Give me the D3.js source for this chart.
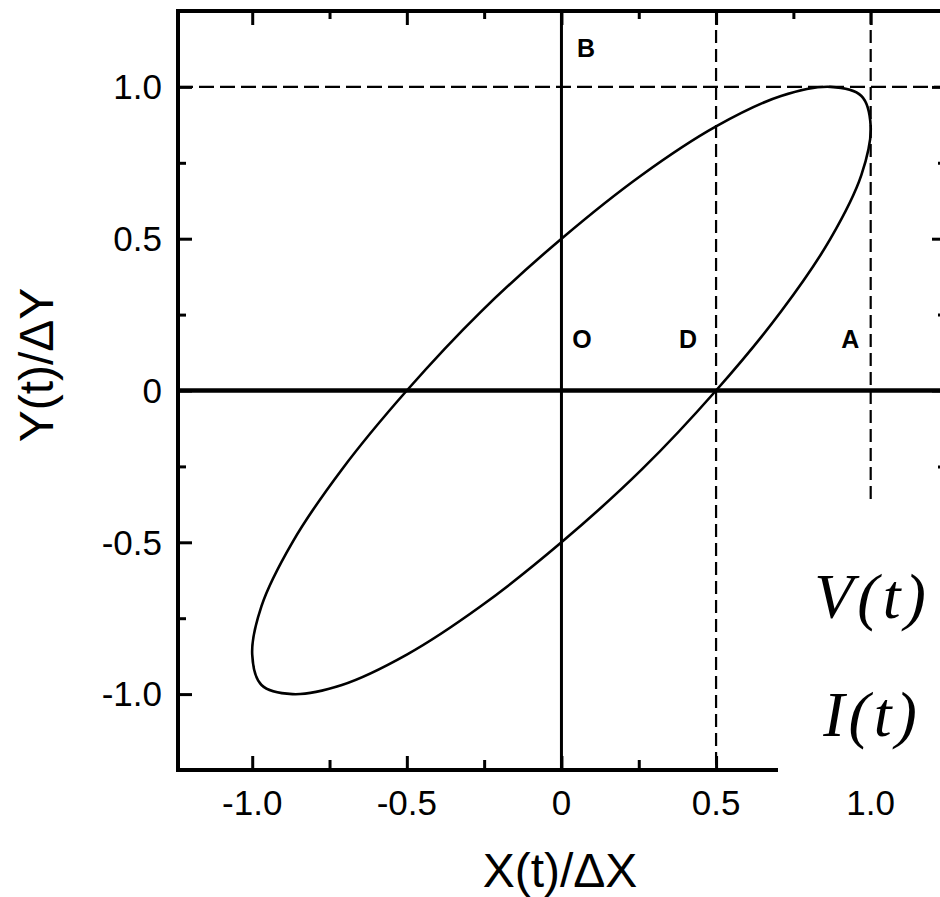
<!DOCTYPE html>
<html>
<head>
<meta charset="utf-8">
<script src="https://cdn.jsdelivr.net/npm/d3@7/dist/d3.min.js"></script>
<style>
  html, body { margin: 0; padding: 0; background: #fff; }
  svg { display: block; }
  text { font-family: "Liberation Sans", Arial, sans-serif; fill: #000; }
  text.signal { font-family: "Liberation Serif", "DejaVu Serif", serif; font-style: italic; }
</style>
</head>
<body>
<svg id="chart" width="940" height="897"></svg>
<script>
// Normalised trajectory X(t)/ΔX, Y(t)/ΔY around one period
const loopX = [1.00, 0.97, 0.87, 0.71, 0.50, 0.26, 0.00, -0.26, -0.50, -0.71, -0.87, -0.97,
               -1.00, -0.97, -0.87, -0.71, -0.50, -0.26, 0.00, 0.26, 0.50, 0.71, 0.87, 0.97];
const loopY = [0.87, 0.97, 1.00, 0.97, 0.87, 0.71, 0.50, 0.26, 0.00, -0.26, -0.50, -0.71,
               -0.87, -0.97, -1.00, -0.97, -0.87, -0.71, -0.50, -0.26, 0.00, 0.26, 0.50, 0.71];

// Axis ticks
const majorTicks = [-1.0, -0.5, 0, 0.5, 1.0];
const majorLabels = ["-1.0", "-0.5", "0", "0.5", "1.0"];
const minorTicks = [-0.75, -0.25, 0.25, 0.75];

// Reference levels: B (Y = 1), D (X = 0.5), A (X = 1)
const levelB = 1.0;
const levelD = 0.5;
const levelA = 1.0;

// Point names and where they sit (data units)
const pointNames = ["B", "O", "D", "A"];
const pointX = [0.05, 0.035, 0.38, 0.905];
const pointY = [1.10, 0.14, 0.14, 0.14];

// Signal names
const signalNames = ["V(t)", "I(t)"];

const svg = d3.select("#chart");

const x = d3.scaleLinear().domain([-1.24, 1.25]).range([178, 948]);
const y = d3.scaleLinear().domain([-1.25, 1.25]).range([770, 11]);

const xL = x.range()[0];
const yB = y.range()[0], yT = y.range()[1];
const xRight = 946;

// Ticks, all pointing into the plot
function tickAxis(axisGen, transform, vals, size) {
  const g = svg.append("g").attr("transform", transform)
    .call(axisGen.tickValues(vals).tickSize(size).tickFormat(""));
  g.select(".domain").remove();
  g.selectAll(".tick line").attr("stroke", "#000").attr("stroke-width", 3);
  return g;
}
tickAxis(d3.axisBottom(x), `translate(0,${yB})`, majorTicks, -14);
tickAxis(d3.axisBottom(x), `translate(0,${yB})`, minorTicks, -10);
tickAxis(d3.axisTop(x), `translate(0,${yT})`, majorTicks, -14);
tickAxis(d3.axisTop(x), `translate(0,${yT})`, minorTicks, -8);
tickAxis(d3.axisLeft(y), `translate(${xL},0)`, majorTicks, -14);
tickAxis(d3.axisLeft(y), `translate(${xL},0)`, minorTicks, -8);
tickAxis(d3.axisRight(y), `translate(${xRight},0)`, majorTicks, -14);
tickAxis(d3.axisRight(y), `translate(${xRight},0)`, minorTicks, -8);

// Dashed reference lines
const dash = svg.append("g").attr("stroke", "#000").attr("stroke-width", 2.2).attr("fill", "none");
dash.append("line")
  .attr("x1", xL).attr("x2", 940).attr("y1", y(levelB)).attr("y2", y(levelB))
  .attr("stroke-dasharray", "15 6");
dash.append("line")
  .attr("x1", x(levelD)).attr("x2", x(levelD)).attr("y1", yT).attr("y2", yB)
  .attr("stroke-dasharray", "13 6");
dash.append("line")
  .attr("x1", x(levelA)).attr("x2", x(levelA)).attr("y1", yT).attr("y2", yB)
  .attr("stroke-dasharray", "13 6");

// Zero axes through the origin
svg.append("line")
  .attr("x1", xL).attr("x2", 940).attr("y1", y(0)).attr("y2", y(0))
  .attr("stroke", "#000").attr("stroke-width", 4.5);
svg.append("line")
  .attr("x1", x(0)).attr("x2", x(0)).attr("y1", yT).attr("y2", yB)
  .attr("stroke", "#000").attr("stroke-width", 3);

// The closed trajectory
const loop = loopX.map((v, i) => [v, loopY[i]]);
svg.append("path")
  .datum(loop)
  .attr("fill", "none")
  .attr("stroke", "#000")
  .attr("stroke-width", 2.6)
  .attr("d", d3.line().x(d => x(d[0])).y(d => y(d[1])).curve(d3.curveCatmullRomClosed));

// Frame
const frame = svg.append("g").attr("stroke", "#000").attr("stroke-width", 4).attr("fill", "none");
frame.append("line").attr("x1", xL).attr("x2", xL).attr("y1", yT - 2).attr("y2", yB + 2);
frame.append("line").attr("x1", xL - 2).attr("x2", 940).attr("y1", yT).attr("y2", yT);
frame.append("line").attr("x1", xL - 2).attr("x2", 778).attr("y1", yB).attr("y2", yB);
frame.append("line").attr("x1", xRight).attr("x2", xRight).attr("y1", yT).attr("y2", yB);

// Blank panel carrying the signal names
svg.append("rect").attr("x", 779).attr("y", 499).attr("width", 161).attr("height", 278).attr("fill", "#fff");

// Tick labels
svg.append("g").selectAll("text").data(majorTicks).join("text")
  .attr("x", d => x(d)).attr("y", 815)
  .attr("text-anchor", "middle").attr("font-size", 35)
  .text((d, i) => majorLabels[i]);
svg.append("g").selectAll("text").data(majorTicks).join("text")
  .attr("x", 162).attr("y", d => y(d)).attr("dy", "0.35em")
  .attr("text-anchor", "end").attr("font-size", 35)
  .text((d, i) => majorLabels[i]);

// Axis titles
svg.append("text")
  .attr("x", 560).attr("y", 887)
  .attr("text-anchor", "middle").attr("font-size", 48)
  .text("X(t)/ΔX");
svg.append("text")
  .attr("transform", "translate(53,365) rotate(-90)")
  .attr("text-anchor", "middle").attr("font-size", 48)
  .text("Y(t)/ΔY");

// Point names
svg.append("g").selectAll("text").data(pointNames).join("text")
  .attr("x", (d, i) => x(pointX[i])).attr("y", (d, i) => y(pointY[i]))
  .attr("font-size", 25).attr("font-weight", "bold")
  .text(d => d);

// Signal names
svg.append("g").selectAll("text").data(signalNames).join("text")
  .attr("class", "signal")
  .attr("x", 872).attr("y", (d, i) => [618, 736][i])
  .attr("text-anchor", "middle")
  .attr("font-size", 64)
  .attr("letter-spacing", 4)
  .text(d => d);
</script>
</body>
</html>
